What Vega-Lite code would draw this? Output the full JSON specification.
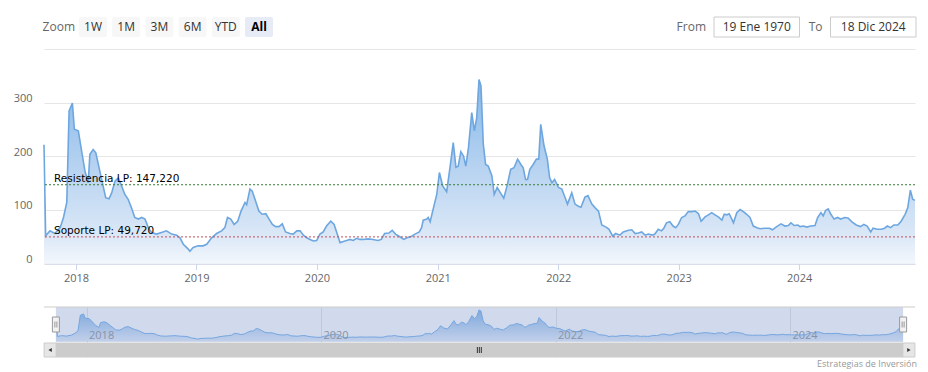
{
  "$schema": "https://vega.github.io/schema/vega-lite/v6.json",
  "padding": {"left": 13, "top": 16, "right": 0, "bottom": 0},
  "background": "white",
  "spacing": 22,
  "config": {"view": {"stroke": null}, "font": "Open Sans"},
  "datasets": {
    "s": [
      {"d":"2017-09-26","v":222},{"d":"2017-10-01","v":52},{"d":"2017-10-14","v":61},{"d":"2017-10-29","v":56},{"d":"2017-11-14","v":67},{"d":"2017-11-24","v":86},{"d":"2017-12-04","v":114},{"d":"2017-12-11","v":285},{"d":"2017-12-21","v":300},{"d":"2017-12-27","v":251},
      {"d":"2018-01-08","v":248},{"d":"2018-01-18","v":210},{"d":"2018-01-28","v":173},{"d":"2018-02-07","v":151},{"d":"2018-02-12","v":204},{"d":"2018-02-22","v":213},{"d":"2018-03-02","v":207},{"d":"2018-03-14","v":173},{"d":"2018-03-24","v":145},{"d":"2018-04-01","v":123},
      {"d":"2018-04-11","v":121},{"d":"2018-04-19","v":132},{"d":"2018-04-29","v":154},{"d":"2018-05-09","v":160},{"d":"2018-05-19","v":145},{"d":"2018-05-29","v":129},{"d":"2018-06-08","v":120},{"d":"2018-06-18","v":104},{"d":"2018-06-28","v":86},{"d":"2018-07-09","v":83},
      {"d":"2018-07-19","v":86},{"d":"2018-07-29","v":83},{"d":"2018-08-08","v":67},{"d":"2018-08-18","v":58},{"d":"2018-09-02","v":55},{"d":"2018-09-17","v":58},{"d":"2018-10-02","v":61},{"d":"2018-10-18","v":55},{"d":"2018-11-02","v":53},{"d":"2018-11-12","v":48},
      {"d":"2018-11-22","v":36},{"d":"2018-11-27","v":33},{"d":"2018-12-07","v":27},{"d":"2018-12-12","v":23},{"d":"2018-12-22","v":30},{"d":"2019-01-06","v":33},{"d":"2019-01-21","v":33},{"d":"2019-02-01","v":36},{"d":"2019-02-16","v":48},{"d":"2019-03-03","v":56},
      {"d":"2019-03-18","v":61},{"d":"2019-03-28","v":67},{"d":"2019-04-05","v":86},{"d":"2019-04-15","v":83},{"d":"2019-04-25","v":73},{"d":"2019-05-06","v":79},{"d":"2019-05-16","v":98},{"d":"2019-05-28","v":114},{"d":"2019-06-02","v":110},{"d":"2019-06-12","v":139},
      {"d":"2019-06-19","v":135},{"d":"2019-06-29","v":117},{"d":"2019-07-09","v":98},{"d":"2019-07-19","v":92},{"d":"2019-07-30","v":93},{"d":"2019-08-09","v":83},{"d":"2019-08-19","v":73},{"d":"2019-08-29","v":69},{"d":"2019-09-08","v":69},{"d":"2019-09-18","v":74},
      {"d":"2019-09-28","v":59},{"d":"2019-10-11","v":56},{"d":"2019-10-21","v":55},{"d":"2019-11-01","v":61},{"d":"2019-11-11","v":61},{"d":"2019-11-21","v":53},{"d":"2019-12-01","v":48},{"d":"2019-12-11","v":45},{"d":"2019-12-21","v":42},{"d":"2019-12-31","v":43},
      {"d":"2020-01-10","v":55},{"d":"2020-01-20","v":59},{"d":"2020-01-30","v":70},{"d":"2020-02-12","v":79},{"d":"2020-02-22","v":73},{"d":"2020-03-01","v":58},{"d":"2020-03-11","v":39},{"d":"2020-03-21","v":41},{"d":"2020-03-31","v":43},{"d":"2020-04-10","v":45},
      {"d":"2020-04-20","v":43},{"d":"2020-04-30","v":47},{"d":"2020-05-10","v":45},{"d":"2020-05-20","v":45},{"d":"2020-06-04","v":46},{"d":"2020-06-19","v":45},{"d":"2020-07-04","v":43},{"d":"2020-07-14","v":45},{"d":"2020-07-24","v":56},{"d":"2020-08-06","v":57},
      {"d":"2020-08-16","v":62},{"d":"2020-08-26","v":55},{"d":"2020-09-08","v":50},{"d":"2020-09-20","v":45},{"d":"2020-09-30","v":48},{"d":"2020-10-14","v":51},{"d":"2020-10-24","v":55},{"d":"2020-11-06","v":59},{"d":"2020-11-13","v":67},{"d":"2020-11-18","v":81},
      {"d":"2020-11-29","v":83},{"d":"2020-12-03","v":86},{"d":"2020-12-09","v":78},{"d":"2020-12-19","v":104},{"d":"2020-12-29","v":129},{"d":"2021-01-06","v":170},{"d":"2021-01-16","v":145},{"d":"2021-01-28","v":134},{"d":"2021-02-07","v":179},{"d":"2021-02-17","v":226},
      {"d":"2021-02-25","v":180},{"d":"2021-03-04","v":182},{"d":"2021-03-12","v":209},{"d":"2021-03-20","v":201},{"d":"2021-03-27","v":182},{"d":"2021-04-04","v":216},{"d":"2021-04-14","v":282},{"d":"2021-04-22","v":248},{"d":"2021-04-29","v":272},{"d":"2021-05-06","v":344},
      {"d":"2021-05-12","v":332},{"d":"2021-05-19","v":223},{"d":"2021-05-26","v":185},{"d":"2021-06-03","v":182},{"d":"2021-06-14","v":164},{"d":"2021-06-21","v":129},{"d":"2021-06-30","v":142},{"d":"2021-07-10","v":132},{"d":"2021-07-20","v":122},{"d":"2021-07-30","v":145},
      {"d":"2021-08-10","v":176},{"d":"2021-08-20","v":179},{"d":"2021-08-31","v":195},{"d":"2021-09-10","v":185},{"d":"2021-09-17","v":179},{"d":"2021-09-24","v":157},{"d":"2021-09-30","v":157},{"d":"2021-10-07","v":176},{"d":"2021-10-17","v":185},{"d":"2021-10-27","v":195},
      {"d":"2021-11-03","v":195},{"d":"2021-11-09","v":260},{"d":"2021-11-19","v":220},{"d":"2021-11-29","v":195},{"d":"2021-12-06","v":160},{"d":"2021-12-13","v":151},{"d":"2021-12-21","v":157},{"d":"2022-01-02","v":142},{"d":"2022-01-12","v":139},{"d":"2022-01-22","v":123},
      {"d":"2022-01-29","v":111},{"d":"2022-02-11","v":132},{"d":"2022-02-21","v":111},{"d":"2022-03-03","v":107},{"d":"2022-03-11","v":105},{"d":"2022-03-23","v":124},{"d":"2022-04-01","v":127},{"d":"2022-04-13","v":111},{"d":"2022-04-23","v":104},{"d":"2022-05-03","v":98},
      {"d":"2022-05-13","v":72},{"d":"2022-05-26","v":68},{"d":"2022-06-04","v":64},{"d":"2022-06-15","v":51},{"d":"2022-06-24","v":56},{"d":"2022-07-07","v":53},{"d":"2022-07-17","v":59},{"d":"2022-08-02","v":62},{"d":"2022-08-12","v":63},{"d":"2022-08-22","v":56},
      {"d":"2022-09-01","v":57},{"d":"2022-09-11","v":59},{"d":"2022-09-21","v":53},{"d":"2022-10-01","v":55},{"d":"2022-10-13","v":53},{"d":"2022-10-21","v":55},{"d":"2022-10-31","v":64},{"d":"2022-11-10","v":61},{"d":"2022-11-17","v":66},{"d":"2022-11-25","v":76},
      {"d":"2022-12-05","v":78},{"d":"2022-12-15","v":70},{"d":"2022-12-23","v":67},{"d":"2022-12-31","v":73},{"d":"2023-01-10","v":86},{"d":"2023-01-20","v":89},{"d":"2023-01-30","v":97},{"d":"2023-02-10","v":97},{"d":"2023-02-20","v":98},{"d":"2023-03-02","v":93},
      {"d":"2023-03-10","v":79},{"d":"2023-03-22","v":87},{"d":"2023-04-01","v":91},{"d":"2023-04-11","v":95},{"d":"2023-04-21","v":91},{"d":"2023-05-01","v":87},{"d":"2023-05-12","v":81},{"d":"2023-05-19","v":92},{"d":"2023-05-27","v":91},{"d":"2023-06-03","v":93},
      {"d":"2023-06-11","v":83},{"d":"2023-06-16","v":76},{"d":"2023-06-26","v":95},{"d":"2023-07-06","v":101},{"d":"2023-07-16","v":97},{"d":"2023-07-26","v":92},{"d":"2023-08-05","v":86},{"d":"2023-08-15","v":70},{"d":"2023-08-26","v":67},{"d":"2023-09-05","v":65},
      {"d":"2023-09-20","v":66},{"d":"2023-10-03","v":66},{"d":"2023-10-12","v":63},{"d":"2023-10-25","v":69},{"d":"2023-11-07","v":74},{"d":"2023-11-19","v":70},{"d":"2023-11-29","v":71},{"d":"2023-12-07","v":76},{"d":"2023-12-17","v":71},{"d":"2023-12-28","v":72},
      {"d":"2024-01-04","v":69},{"d":"2024-01-14","v":70},{"d":"2024-01-24","v":68},{"d":"2024-02-05","v":70},{"d":"2024-02-18","v":71},{"d":"2024-02-26","v":86},{"d":"2024-03-07","v":95},{"d":"2024-03-14","v":89},{"d":"2024-03-21","v":99},{"d":"2024-03-29","v":102},
      {"d":"2024-04-06","v":92},{"d":"2024-04-16","v":83},{"d":"2024-04-26","v":86},{"d":"2024-05-06","v":83},{"d":"2024-05-18","v":86},{"d":"2024-05-28","v":85},{"d":"2024-06-09","v":78},{"d":"2024-06-22","v":72},{"d":"2024-07-05","v":69},{"d":"2024-07-15","v":73},
      {"d":"2024-07-25","v":70},{"d":"2024-08-05","v":59},{"d":"2024-08-12","v":66},{"d":"2024-08-25","v":64},{"d":"2024-09-06","v":64},{"d":"2024-09-16","v":66},{"d":"2024-09-24","v":70},{"d":"2024-10-04","v":67},{"d":"2024-10-14","v":72},{"d":"2024-10-26","v":72},
      {"d":"2024-11-05","v":79},{"d":"2024-11-17","v":92},{"d":"2024-11-25","v":104},{"d":"2024-12-03","v":137},{"d":"2024-12-10","v":120},{"d":"2024-12-17","v":118}
    ],
    "lv": [
      {"k":"res","name":"Resistencia LP: 147,220","v":147.22,"d":"2017-09-26"},
      {"k":"sup","name":"Soporte LP: 49,720","v":49.72,"d":"2017-09-26"}
    ],
    "btn": [{"b":"1W"},{"b":"1M"},{"b":"3M"},{"b":"6M"},{"b":"YTD"},{"b":"All"}],
    "inp": [{"k":"From","val":"19 Ene 1970"},{"k":"To","val":"18 Dic 2024"}],
    "sel": [{"a":"2017-09-26","b":"2024-12-17"}],
    "hd": [{"h":"2017-09-26"},{"h":"2024-12-17"}],
    "gy": [{"g":"2018-01-01","t":"2018"},{"g":"2020-01-01","t":"2020"},{"g":"2022-01-01","t":"2022"},{"g":"2024-01-01","t":"2024"}]
  },
  "vconcat": [
    {
      "width": 871,
      "height": 246.5,
      "layer": [
        {
          "layer": [
            {
              "data": {"name": "s"},
              "mark": {
                "type": "area",
                "interpolate": "linear",
                "opacity": 1,
                "line": {"color": "#6ea7df", "strokeWidth": 1.6},
                "color": {"gradient": "linear", "x1": 0, "y1": 0, "x2": 0, "y2": 1,
                  "stops": [
                    {"offset": 0, "color": "#86b8ea"},
                    {"offset": 0.5, "color": "#b9d4f1"},
                    {"offset": 0.85, "color": "#dbe8f7"},
                    {"offset": 1, "color": "#f3f7fc"}
                  ]}
              },
              "encoding": {
                "x": {"field": "d", "type": "temporal",
                  "scale": {"domain": [{"year":2017,"month":9,"date":26},{"year":2024,"month":12,"date":17}]},
                  "axis": {"values": [{"year":2018,"month":1,"date":1},{"year":2019,"month":1,"date":1},{"year":2020,"month":1,"date":1},{"year":2021,"month":1,"date":1},{"year":2022,"month":1,"date":1},{"year":2023,"month":1,"date":1},{"year":2024,"month":1,"date":1}],
                    "format": "%Y", "title": null, "grid": false, "labelColor": "#666666", "labelFontSize": 11, "labelFont": "Open Sans",
                    "tickColor": "#ccd6eb", "tickSize": 6, "domainColor": "#ccd6eb", "labelPadding": 3, "labelFlush": false}},
                "y": {"field": "v", "type": "quantitative",
                  "scale": {"domain": [0, 460.7], "nice": false, "zero": true},
                  "axis": {"values": [0,100,200,300,400], "labelExpr": "datum.value == 400 ? '' : datum.label", "title": null,
                    "grid": true, "gridColor": "#e6e6e6", "domain": false, "ticks": false, "labelPadding": 12,
                    "labelBaseline": "alphabetic", "labelOffset": -1, "labelColor": "#666666", "labelFontSize": 11, "labelFont": "Open Sans"}}
              }
            },
            {
              "data": {"name": "lv"},
              "mark": {"type": "rule", "strokeDash": [2, 2], "strokeWidth": 1},
              "encoding": {
                "y": {"field": "v", "type": "quantitative"},
                "color": {"field": "k", "type": "nominal", "scale": {"domain": ["res","sup"], "range": ["#3a7d3a","#c44e5a"]}, "legend": null}
              }
            },
            {
              "data": {"name": "lv"},
              "mark": {"type": "text", "align": "left", "baseline": "alphabetic", "dx": 10, "dy": -3, "font": "DejaVu Sans", "fontSize": 10.5, "color": "#000000"},
              "encoding": {
                "x": {"field": "d", "type": "temporal"},
                "y": {"field": "v", "type": "quantitative"},
                "text": {"field": "name"}
              }
            }
          ]
        },
        {
          "data": {"name": "btn"},
          "layer": [
            {
              "mark": {"type": "rect", "cornerRadius": 2},
              "encoding": {
                "x": {"field": "b", "type": "nominal", "sort": null,
                  "scale": {"domain": ["1W","1M","3M","6M","YTD","All"], "range": [35, 229], "paddingInner": 0.157, "paddingOuter": 0}, "axis": null},
                "y": {"datum": 460.7, "type": "quantitative"},
                "y2": {"datum": 423.3},
                "fill": {"condition": {"test": "datum.b === 'All'", "value": "#e6ebf5"}, "value": "#f7f7f7"}
              }
            },
            {
              "transform": [{"filter": "datum.b !== 'All'"}],
              "mark": {"type": "text", "fontSize": 12, "font": "Open Sans", "baseline": "middle", "color": "#333333"},
              "encoding": {
                "x": {"field": "b", "type": "nominal", "sort": null, "axis": null},
                "y": {"datum": 442, "type": "quantitative"},
                "text": {"field": "b"}
              }
            },
            {
              "transform": [{"filter": "datum.b === 'All'"}],
              "mark": {"type": "text", "fontSize": 12, "font": "Open Sans", "fontWeight": "bold", "baseline": "middle", "color": "#000000"},
              "encoding": {
                "x": {"field": "b", "type": "nominal", "sort": null, "axis": null},
                "y": {"datum": 442, "type": "quantitative"},
                "text": {"field": "b"}
              }
            },
            {
              "transform": [{"filter": "datum.b === '1W'"}],
              "mark": {"type": "text", "align": "right", "baseline": "middle", "dx": -18, "fontSize": 12, "font": "Open Sans", "color": "#666666"},
              "encoding": {
                "x": {"field": "b", "type": "nominal", "sort": null, "axis": null},
                "y": {"datum": 442, "type": "quantitative"},
                "text": {"value": "Zoom"}
              }
            }
          ]
        },
        {
          "data": {"name": "inp"},
          "layer": [
            {
              "mark": {"type": "rect", "fill": "#ffffff", "stroke": "#cccccc", "strokeWidth": 1},
              "encoding": {
                "x": {"field": "k", "type": "nominal", "sort": null,
                  "scale": {"domain": ["From","To"], "range": [670, 872], "paddingInner": 0.266, "paddingOuter": 0}, "axis": null},
                "y": {"datum": 460.7, "type": "quantitative"},
                "y2": {"datum": 423.3}
              }
            },
            {
              "mark": {"type": "text", "fontSize": 12, "font": "Open Sans", "baseline": "middle", "color": "#333333"},
              "encoding": {
                "x": {"field": "k", "type": "nominal", "sort": null, "axis": null},
                "y": {"datum": 442, "type": "quantitative"},
                "text": {"field": "val"}
              }
            },
            {
              "mark": {"type": "text", "align": "right", "baseline": "middle", "dx": -50.75, "fontSize": 12, "font": "Open Sans", "color": "#666666"},
              "encoding": {
                "x": {"field": "k", "type": "nominal", "sort": null, "axis": null},
                "y": {"datum": 442, "type": "quantitative"},
                "text": {"field": "k"}
              }
            }
          ]
        }
      ],
      "resolve": {"scale": {"x": "independent"}}
    },
    {
      "width": 871,
      "height": 50,
      "title": {"text": "Estrategias de Inversión", "orient": "bottom", "anchor": "end", "fontSize": 9, "fontWeight": "normal", "color": "#999999", "font": "Open Sans", "offset": 1},
      "layer": [
        {
          "data": {"name": "s"},
          "mark": {"type": "area", "interpolate": "linear", "opacity": 1,
            "line": {"color": "#7cb5ec", "strokeWidth": 1},
            "color": {"gradient": "linear", "x1": 0, "y1": 0, "x2": 0, "y2": 1,
              "stops": [{"offset": 0, "color": "#8ab8e8"}, {"offset": 1, "color": "#e8f0fa"}]}},
          "encoding": {
            "x": {"field": "d", "type": "temporal",
              "scale": {"domain": [{"year":2017,"month":8,"date":20},{"year":2025,"month":1,"date":23}]},
              "axis": {"values": [{"year":2018,"month":1,"date":1},{"year":2020,"month":1,"date":1},{"year":2022,"month":1,"date":1},{"year":2024,"month":1,"date":1}],
                "title": null, "grid": true, "gridColor": "#e6e6e6", "domain": false, "ticks": false, "labels": false}},
            "y": {"field": "v", "type": "quantitative", "scale": {"domain": [-174, 376], "nice": false, "zero": false}, "axis": null}
          }
        },
        {
          "data": {"name": "gy"},
          "mark": {"type": "text", "align": "left", "baseline": "alphabetic", "dx": 2, "fontSize": 11, "font": "Open Sans", "color": "#999999"},
          "encoding": {
            "x": {"field": "g", "type": "temporal"},
            "y": {"datum": 24, "type": "quantitative"},
            "text": {"field": "t"}
          }
        },
        {
          "data": {"name": "sel"},
          "mark": {"type": "rect", "fill": "rgba(102,133,194,0.3)"},
          "encoding": {
            "x": {"field": "a", "type": "temporal"},
            "x2": {"field": "b"},
            "y": {"datum": 376, "type": "quantitative"},
            "y2": {"datum": -9}
          }
        },
        {
          "data": {"name": "sel"},
          "mark": {"type": "rule", "color": "#cccccc", "strokeWidth": 1},
          "encoding": {"y": {"datum": 376, "type": "quantitative"}}
        },
        {
          "data": {"name": "sel"},
          "mark": {"type": "rect", "fill": "#f2f2f2"},
          "encoding": {
            "y": {"datum": -20, "type": "quantitative"},
            "y2": {"datum": -174}
          }
        },
        {
          "data": {"name": "sel"},
          "mark": {"type": "rect", "fill": "#cccccc", "stroke": "#cccccc", "strokeWidth": 1},
          "encoding": {
            "x": {"field": "a", "type": "temporal"},
            "x2": {"field": "b"},
            "y": {"datum": -20, "type": "quantitative"},
            "y2": {"datum": -174}
          }
        },
        {
          "data": {"name": "sel"},
          "mark": {"type": "point", "shape": "M-0.86,-1H0.86V1H-0.86Z", "size": 196, "filled": true, "fill": "#e6e6e6", "stroke": "#cccccc", "strokeWidth": 1, "opacity": 1},
          "encoding": {
            "x": {"datum": {"year":2017,"month":9,"date":8}, "type": "temporal"},
            "y": {"datum": -97, "type": "quantitative"}
          }
        },
        {
          "data": {"name": "sel"},
          "mark": {"type": "point", "shape": "M-0.86,-1H0.86V1H-0.86Z", "size": 196, "filled": true, "fill": "#e6e6e6", "stroke": "#cccccc", "strokeWidth": 1, "opacity": 1},
          "encoding": {
            "x": {"datum": {"year":2025,"month":1,"date":4}, "type": "temporal"},
            "y": {"datum": -97, "type": "quantitative"}
          }
        },
        {
          "data": {"name": "sel"},
          "mark": {"type": "point", "shape": "triangle-left", "size": 16, "filled": true, "color": "#333333", "opacity": 1},
          "encoding": {
            "x": {"datum": {"year":2017,"month":9,"date":8}, "type": "temporal"},
            "y": {"datum": -97, "type": "quantitative"}
          }
        },
        {
          "data": {"name": "sel"},
          "mark": {"type": "point", "shape": "triangle-right", "size": 16, "filled": true, "color": "#333333", "opacity": 1},
          "encoding": {
            "x": {"datum": {"year":2025,"month":1,"date":4}, "type": "temporal"},
            "y": {"datum": -97, "type": "quantitative"}
          }
        },
        {
          "data": {"name": "sel"},
          "mark": {"type": "point", "shape": "M-0.66,-1V1M0,-1V1M0.66,-1V1", "size": 36, "filled": false, "stroke": "#333333", "strokeWidth": 1, "opacity": 1},
          "encoding": {
            "x": {"datum": {"year":2021,"month":5,"date":7}, "type": "temporal"},
            "y": {"datum": -97, "type": "quantitative"}
          }
        },
        {
          "data": {"name": "hd"},
          "mark": {"type": "point", "shape": "M-0.467,-1H0.467V1H-0.467Z", "size": 225, "filled": true, "fill": "#f2f2f2", "stroke": "#999999", "strokeWidth": 1, "opacity": 1},
          "encoding": {
            "x": {"field": "h", "type": "temporal"},
            "y": {"datum": 183.5, "type": "quantitative"}
          }
        },
        {
          "data": {"name": "hd"},
          "mark": {"type": "point", "shape": "M-0.133,-0.4V0.4M0.133,-0.4V0.4", "size": 225, "filled": false, "stroke": "#999999", "strokeWidth": 1, "opacity": 1},
          "encoding": {
            "x": {"field": "h", "type": "temporal"},
            "y": {"datum": 183.5, "type": "quantitative"}
          }
        }
      ]
    }
  ]
}
